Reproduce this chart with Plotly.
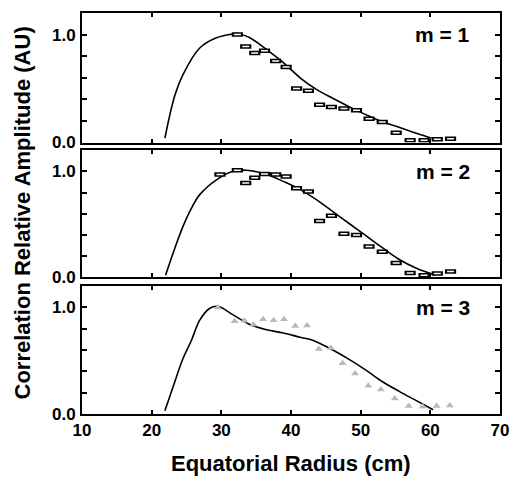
import plotly.graph_objects as go

# fitted curves (solid lines)
fit1_x = [21.9, 23.3, 24.5, 26.9, 29.3, 31.7, 32.2, 34.1, 36.5, 38.9, 41.3, 43.7, 46.0, 48.4, 50.8, 53.2, 55.6, 58.0, 60.2]
fit1_y = [0.04, 0.43, 0.63, 0.876, 0.97, 1.006, 1.01, 0.97, 0.86, 0.74, 0.60, 0.49, 0.41, 0.33, 0.256, 0.19, 0.14, 0.086, 0.04]

fit2_x = [22.0, 23.3, 24.5, 25.7, 26.9, 29.3, 31.7, 33.6, 36.5, 38.9, 41.3, 43.7, 46.0, 48.4, 50.8, 53.2, 55.6, 58.0, 60.7]
fit2_y = [0.02, 0.27, 0.48, 0.65, 0.78, 0.92, 1.0, 1.01, 0.97, 0.905, 0.83, 0.73, 0.62, 0.505, 0.39, 0.275, 0.165, 0.085, 0.02]

fit3_x = [21.9, 23.1, 24.5, 25.7, 26.9, 28.3, 29.5, 31.7, 34.1, 36.5, 38.9, 41.3, 43.2, 46.0, 48.4, 50.8, 53.2, 55.6, 58.0, 60.4]
fit3_y = [0.03, 0.26, 0.52, 0.69, 0.88, 0.99, 1.01, 0.93, 0.84, 0.79, 0.76, 0.72, 0.69, 0.60, 0.51, 0.41, 0.30, 0.21, 0.125, 0.04]

# measured points
m1_x = [32.3, 33.5, 34.8, 36.2, 37.8, 39.3, 40.8, 42.5, 44.1, 45.8, 47.6, 49.4, 51.2, 53.1, 55.1, 57.1, 59.1, 61.0, 62.9]
m1_y = [1.0, 0.89, 0.83, 0.85, 0.755, 0.70, 0.50, 0.48, 0.35, 0.33, 0.315, 0.30, 0.22, 0.19, 0.09, 0.02, 0.02, 0.03, 0.035]

m2_x = [29.8, 32.3, 33.5, 34.8, 36.2, 37.8, 39.3, 40.8, 42.5, 44.1, 45.8, 47.6, 49.4, 51.2, 53.1, 55.1, 57.1, 59.1, 61.0, 62.9]
m2_y = [0.97, 1.01, 0.89, 0.94, 0.975, 0.97, 0.95, 0.84, 0.81, 0.53, 0.58, 0.41, 0.40, 0.29, 0.24, 0.135, 0.04, 0.02, 0.035, 0.055]

m3_x = [29.5, 31.9, 33.3, 34.6, 36.0, 37.5, 39.0, 40.6, 42.3, 44.0, 45.7, 47.4, 49.2, 51.1, 52.9, 54.9, 56.9, 58.9, 60.9, 62.8]
m3_y = [1.0, 0.87, 0.875, 0.84, 0.89, 0.88, 0.89, 0.825, 0.83, 0.61, 0.62, 0.475, 0.38, 0.265, 0.23, 0.145, 0.075, 0.07, 0.075, 0.08]

labels = ["m = 1", "m = 2", "m = 3"]
x_ticks = [10, 20, 30, 40, 50, 60, 70]
y_ticks = [0, 0.2, 0.4, 0.6, 0.8, 1.0]
y_text = ["<b>0.0</b>", "", "", "", "", "<b>1.0</b>"]

FONT = "Liberation Sans, Arial, sans-serif"

fig = go.Figure()
panels = [(fit1_x, fit1_y, m1_x, m1_y), (fit2_x, fit2_y, m2_x, m2_y), (fit3_x, fit3_y, m3_x, m3_y)]
for i, (fx, fy, mx, my) in enumerate(panels):
    xa = "x" if i == 0 else "x%d" % (i + 1)
    ya = "y" if i == 0 else "y%d" % (i + 1)
    fig.add_trace(go.Scatter(x=fx, y=fy, mode="lines", line=dict(color="black", width=1.6, shape="spline"),
                             xaxis=xa, yaxis=ya, showlegend=False))
    if i < 2:
        # small open rectangles: black bar with a white core
        fig.add_trace(go.Scatter(x=mx, y=my, mode="markers", xaxis=xa, yaxis=ya, showlegend=False,
                                 marker=dict(symbol="line-ew", size=8, line=dict(color="black", width=4.5))))
        fig.add_trace(go.Scatter(x=mx, y=my, mode="markers", xaxis=xa, yaxis=ya, showlegend=False,
                                 marker=dict(symbol="line-ew", size=5, line=dict(color="white", width=1.5))))
    else:
        fig.add_trace(go.Scatter(x=mx, y=my, mode="markers", xaxis=xa, yaxis=ya, showlegend=False,
                                 marker=dict(symbol="triangle-up", size=7, color="#b9b9b9", line=dict(width=0))))

domains = [[0.677, 1.0], [0.341, 0.658], [0.0, 0.319]]
axcommon = dict(showline=True, linecolor="black", linewidth=2, mirror="ticks", ticks="inside",
                tickcolor="black", tickwidth=1.5, showgrid=False, zeroline=False, automargin=False)
layout = dict(width=518, height=477, margin=dict(l=82, r=18, t=13, b=63),
              plot_bgcolor="white", paper_bgcolor="white",
              font=dict(family=FONT, color="black"))
for i in range(3):
    sx = "" if i == 0 else str(i + 1)
    layout["xaxis" + sx] = dict(axcommon, domain=[0, 1], range=[10, 70], tickvals=x_ticks, ticklen=4,
                                anchor="y" + sx, showticklabels=(i == 2),
                                ticktext=["<b>%d</b>" % v for v in x_ticks],
                                tickfont=dict(size=17),
                                matches=None if i == 0 else "x")
    layout["yaxis" + sx] = dict(axcommon, domain=domains[i], range=[0, 1.2], tickvals=y_ticks,
                                ticktext=y_text, ticklen=5, anchor="x" + sx,
                                tickfont=dict(size=17), ticklabelstandoff=1)
fig.update_layout(**layout)

for i, lab in enumerate(labels):
    sx = "" if i == 0 else str(i + 1)
    fig.add_annotation(text="<b>%s</b>" % lab, xref="x%s domain" % sx, yref="y%s domain" % sx,
                       x=0.933, y=0.835, xanchor="right", yanchor="middle", showarrow=False,
                       font=dict(size=21))

fig.add_annotation(text="<b>Equatorial Radius (cm)</b>", xref="paper", yref="paper", x=0.5, y=0,
                   yshift=-49, xanchor="center", yanchor="middle", showarrow=False, font=dict(size=22))
fig.add_annotation(text="<b>Correlation Relative Amplitude (AU)</b>", xref="paper", yref="paper",
                   x=0, xshift=-60, y=0.5, textangle=-90, xanchor="center", yanchor="middle",
                   showarrow=False, font=dict(size=22))

fig.write_html("out.html", config={"displayModeBar": False},
               post_script="document.body.style.margin='0';")
